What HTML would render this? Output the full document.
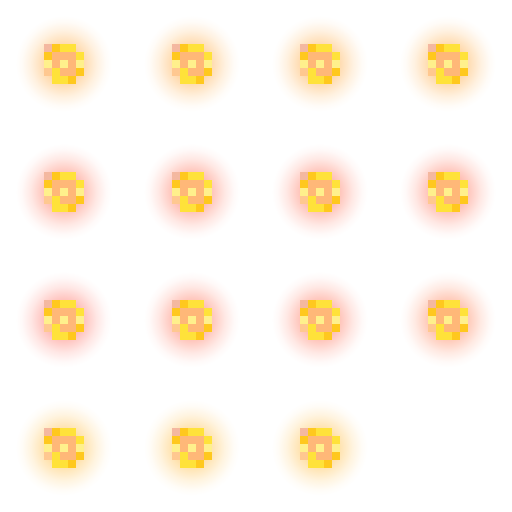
<!DOCTYPE html>
<html><head><meta charset="utf-8"><style>
html,body{margin:0;padding:0;background:#fff;}
#stage{position:relative;width:512px;height:512px;overflow:hidden;background:#fff;}
.cell{position:absolute;width:128px;height:128px;}
.glow{position:absolute;left:4px;top:4px;width:120px;height:120px;border-radius:50%;}
.px{position:absolute;width:8px;height:8px;}
</style></head><body>
<div id="stage"></div>
<script>
// glow tint per sprite (row-major, 15 sprites)
const glowColors = [
 "255,185,100","255,185,100","255,185,100","255,185,100",
 "255,140,120","255,140,120","255,140,120","255,140,120",
 "255,135,125","255,140,120","255,140,120","255,150,115",
 "255,200,100","255,200,100","255,200,100"
];
// 5x5 sprite palette codes
const spriteRows = [
 "PoYY.",
 "oGGGY",
 "LGLGL",
 "gYGGo",
 ".YYo."
];
const palette = {P:"#f4b8a0",o:"#ffc81e",Y:"#ffe23a",G:"#ffb878",L:"#fff08c",g:"#ffc890"};
const stage = document.getElementById('stage');
glowColors.forEach((c,i)=>{
  const col=i%4,row=Math.floor(i/4);
  const cell=document.createElement('div');
  cell.className='cell';
  cell.style.left=(col*128)+'px';cell.style.top=(row*128)+'px';
  
  
  const g=document.createElement('div');
  g.className='glow';
  g.style.background=`radial-gradient(circle closest-side, rgba(${c},0.8) 0%, rgba(${c},0.55) 30%, rgba(${c},0.2) 55%, rgba(${c},0.05) 70%, rgba(${c},0) 80%)`;
  
  
  cell.appendChild(g);
  spriteRows.forEach((r,ry)=>{
    [...r].forEach((ch,rx)=>{
      if(ch==='.')return;
      const p=document.createElement('div');
      p.className='px';
      p.style.left=(44+rx*8)+'px';p.style.top=(44+ry*8)+'px';
      p.style.background=palette[ch];
      
      
      cell.appendChild(p);
    });
  });
  stage.appendChild(cell);
});
</script>
</body></html>
